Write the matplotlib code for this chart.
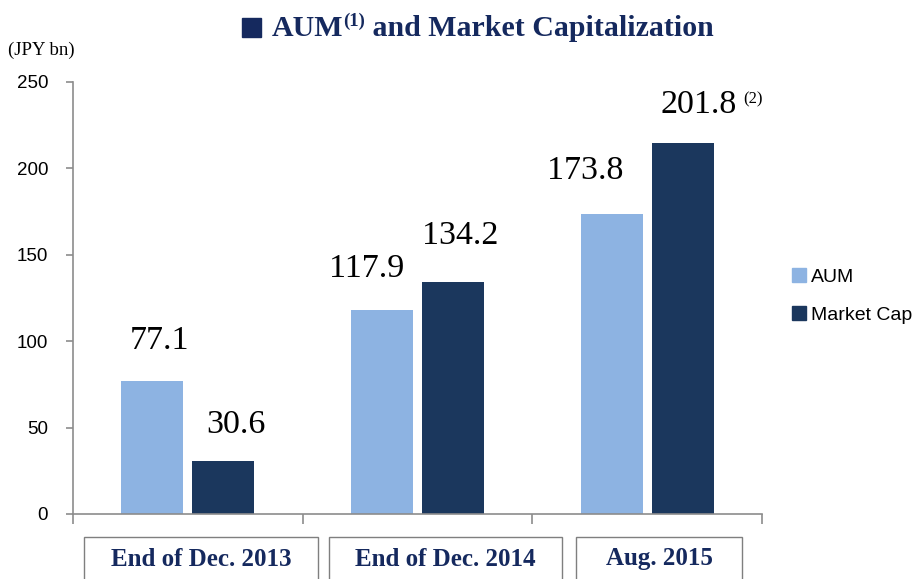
import matplotlib
matplotlib.use("Agg")
import matplotlib.pyplot as plt
import numpy as np
from matplotlib.patches import Rectangle, Patch

# data
categories = ["End of Dec. 2013", "End of Dec. 2014", "Aug. 2015"]
aum = [77.1, 117.9, 173.8]
market_cap = [30.6, 134.2, 214.7]          # last bar is drawn taller than its label in the source
aum_labels = ["77.1", "117.9", "173.8"]
cap_labels = ["30.6", "134.2", "201.8"]
yticks = [0, 50, 100, 150, 200, 250]

AUM_COLOR = "#8DB3E2"
CAP_COLOR = "#1B375D"
NAVY = "#15295E"
SPINE = "#8C8C8C"
SERIF = ["Liberation Serif", "DejaVu Serif"]
SANS = ["Liberation Sans", "DejaVu Sans"]

W, H = 916, 579
fig = plt.figure(figsize=(W / 100, H / 100), dpi=100)


def fx(px):
    return px / W


def fy(py):
    return 1 - py / H


ax = fig.add_axes([fx(73), fy(514), fx(762) - fx(73), fy(82) - fy(514)])

x = np.arange(len(categories))
bw = 0.27
off = 0.155
ax.bar(x - off, aum, bw, color=AUM_COLOR, label="AUM")
ax.bar(x + off, market_cap, bw, color=CAP_COLOR, label="Market Cap")

ax.set_xlim(-0.5, len(categories) - 0.5)
ax.set_ylim(0, 250)
ax.set_yticks(yticks)
ax.set_yticklabels([str(t) for t in yticks], fontsize=13.5, family=SANS)
ax.set_xticks(np.arange(len(categories) + 1) - 0.5)
ax.set_xticklabels([])
ax.tick_params(axis="x", length=7, color=SPINE, width=1.2)
ax.tick_params(axis="y", length=5, color=SPINE, width=1.2, pad=13)
for s in ["top", "right"]:
    ax.spines[s].set_visible(False)
for s in ["left", "bottom"]:
    ax.spines[s].set_color(SPINE)
    ax.spines[s].set_linewidth(1.2)

# value labels, nudged like the source slide
aum_off = [(7, 40), (-15, 42), (-26, 43)]
cap_off = [(13, 36), (7, 46), (16, 38)]
for i in range(len(categories)):
    ax.annotate(aum_labels[i], (x[i] - off, aum[i]), xytext=aum_off[i],
                textcoords="offset pixels", ha="center", va="center",
                fontsize=24.5, family=SERIF, color="black")
    ax.annotate(cap_labels[i], (x[i] + off, market_cap[i]), xytext=cap_off[i],
                textcoords="offset pixels", ha="center", va="center",
                fontsize=24.5, family=SERIF, color="black")
ax.annotate("(2)", (x[2] + off, market_cap[2]), xytext=(60, 44),
            textcoords="offset pixels", ha="left", va="center",
            fontsize=12, family=SERIF, color="black")

# category boxes below the axis
boxes = [(84, 318), (329, 562), (576, 742)]
for (l, r), name in zip(boxes, categories):
    fig.patches.append(Rectangle((fx(l), fy(590)), fx(r) - fx(l), fy(537) - fy(590),
                                 transform=fig.transFigure, fill=False,
                                 edgecolor="#7F7F7F", linewidth=1))
    fig.text(fx((l + r) / 2), fy(559), name, ha="center", va="center",
             fontsize=18, fontweight="bold", family=SERIF, color=NAVY)

# unit label
fig.text(fx(8), fy(50), "(JPY bn)", ha="left", va="center", fontsize=13.5,
         family=SERIF, color="black")

# title: square marker + text pieces so the (1) can sit as a superscript
renderer = fig.canvas.get_renderer()
parts = [("AUM", 21.5, 0), ("(1)", 13.5, 7), (" and Market Capitalization", 21.5, 0)]
texts = []
for s, size, dy in parts:
    t = fig.text(0, fy(28) + dy / H, s, ha="left", va="center", fontsize=size,
                 fontweight="bold", family=SERIF, color=NAVY)
    texts.append(t)
widths = [t.get_window_extent(renderer).width for t in texts]
sq, gap = 19, 11
start = 478 - (sum(widths) + sq + gap) / 2
fig.patches.append(Rectangle((fx(start), fy(37)), fx(sq), fy(18) - fy(37),
                             transform=fig.transFigure, color=NAVY))
start += sq + gap
for t, w in zip(texts, widths):
    t.set_x(fx(start))
    start += w

fig.legend(handles=[Patch(color=AUM_COLOR, label="AUM"), Patch(color=CAP_COLOR, label="Market Cap")],
           loc="center left", bbox_to_anchor=(fx(792), fy(296)), frameon=False,
           prop={"family": SANS, "size": 14}, handlelength=0.7, handleheight=0.7,
           handletextpad=0.3, labelspacing=1.05, borderpad=0, borderaxespad=0)

fig.savefig("out.png", dpi=100)
